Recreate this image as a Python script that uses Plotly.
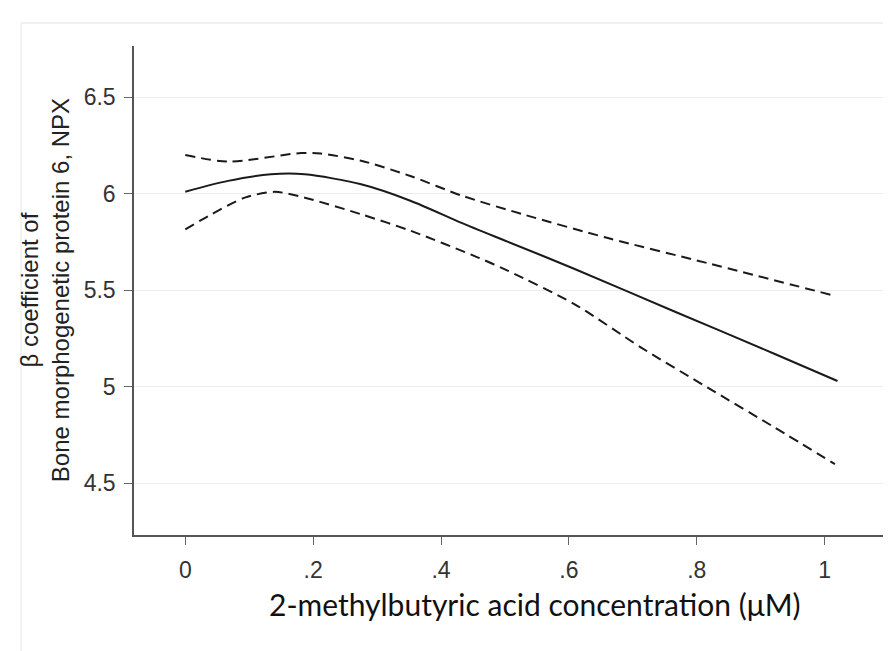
import plotly.graph_objects as go

# Data
fit_x = [0.0, 0.067, 0.134, 0.187, 0.275, 0.353, 0.431, 0.505, 0.609, 0.765, 0.922, 1.02]
fit_y = [6.01, 6.066, 6.10, 6.10, 6.048, 5.962, 5.85, 5.75, 5.61, 5.39, 5.17, 5.03]

upper_x = [0.0, 0.067, 0.181, 0.212, 0.275, 0.353, 0.432, 0.531, 0.661, 0.817, 1.01]
upper_y = [6.20, 6.166, 6.21, 6.207, 6.17, 6.09, 5.99, 5.89, 5.77, 5.64, 5.476]

lower_x = [0.0, 0.041, 0.093, 0.14, 0.187, 0.275, 0.353, 0.458, 0.505, 0.609, 0.713, 0.817, 0.922, 1.016]
lower_y = [5.815, 5.893, 5.979, 6.009, 5.979, 5.893, 5.807, 5.669, 5.60, 5.427, 5.203, 4.996, 4.789, 4.60]

x_tickvals = [0, 0.2, 0.4, 0.6, 0.8, 1.0]
x_ticktext = ["0", ".2", ".4", ".6", ".8", "1"]
y_tickvals = [4.5, 5.0, 5.5, 6.0, 6.5]
y_ticktext = ["4.5", "5", "5.5", "6", "6.5"]

x_title = "2-methylbutyric acid concentration (μM)"
y_title = "β coefficient of<br>Bone morphogenetic protein 6, NPX"

fig = go.Figure()
line_col = "#1a1a1a"
fig.add_trace(go.Scatter(x=upper_x, y=upper_y, mode="lines",
                         line=dict(color=line_col, width=2, dash="10px,6px", shape="spline", smoothing=0.8),
                         showlegend=False, hoverinfo="skip"))
fig.add_trace(go.Scatter(x=lower_x, y=lower_y, mode="lines",
                         line=dict(color=line_col, width=2, dash="10px,6px", shape="spline", smoothing=0.8),
                         showlegend=False, hoverinfo="skip"))
fig.add_trace(go.Scatter(x=fit_x, y=fit_y, mode="lines",
                         line=dict(color=line_col, width=2, shape="spline", smoothing=0.8),
                         showlegend=False, hoverinfo="skip"))

tick_font = dict(family="Liberation Sans, Arial, sans-serif", size=23, color="#333333")

fig.update_layout(
    width=891, height=651,
    margin=dict(l=126, r=8, t=38, b=124),
    paper_bgcolor="white", plot_bgcolor="white",
    xaxis=dict(range=[-0.0802, 1.1037], tickvals=x_tickvals, ticktext=x_ticktext,
               showgrid=False, zeroline=False, showline=True, linecolor="#555555", linewidth=1.5,
               ticks="outside", ticklen=8, tickcolor="#666666", tickwidth=1.2,
               tickfont=tick_font, ticklabelstandoff=6),
    yaxis=dict(range=[4.233, 6.764], tickvals=y_tickvals, ticktext=y_ticktext,
               showgrid=True, gridcolor="#ececec", gridwidth=1, zeroline=False,
               showline=True, linecolor="#555555", linewidth=1.5,
               ticks="outside", ticklen=8, tickcolor="#666666", tickwidth=1.2,
               tickfont=tick_font, ticklabelstandoff=4),
    annotations=[
        dict(text=x_title, xref="paper", yref="paper", x=0.5297, y=-0.141,
             xanchor="center", yanchor="middle", showarrow=False,
             font=dict(family="Lato, Open Sans, sans-serif", size=30, color="#111111")),
        dict(text=y_title, xref="paper", yref="paper", x=-0.118, y=0.5,
             xanchor="center", yanchor="middle", showarrow=False, textangle=-90,
             font=dict(family="Liberation Sans, Arial, sans-serif", size=24, color="#222222")),
    ],
    shapes=[
        dict(type="line", xref="paper", yref="paper", x0=(13 - 126) / 757, x1=1.02,
             y0=(527 - 15) / 489, y1=(527 - 15) / 489, line=dict(color="#e6ebeb", width=1.5)),
        dict(type="line", xref="paper", yref="paper", x0=(13 - 126) / 757, x1=(13 - 126) / 757,
             y0=(527 - 15) / 489, y1=-0.3, line=dict(color="#eef1f1", width=1.5)),
    ],
)

fig.write_html("out.html")
